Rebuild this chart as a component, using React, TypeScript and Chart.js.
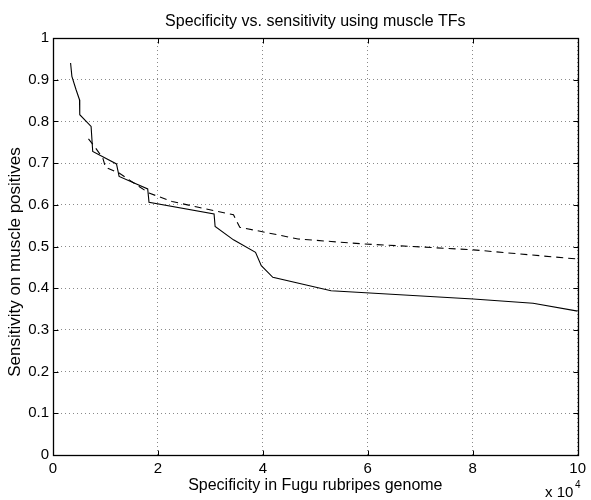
import React, { useEffect, useRef } from "react";
import { Chart, registerables } from "chart.js";

Chart.register(...registerables);

const TITLE = "Specificity vs. sensitivity using muscle TFs";
const X_TITLE = "Specificity in Fugu rubripes genome";
const Y_TITLE = "Sensitivity on muscle positives";

// x values are raw counts (axis shows them in units of 10^4)
const solidX = [3350, 3600, 4400, 5050, 5100, 7260, 7570, 12100, 12600, 18050, 18300, 30700, 30900, 34400, 38600, 39700, 41900, 53000, 80100, 91500, 100000];
const solidY = [0.94, 0.908, 0.876, 0.852, 0.816, 0.788, 0.728, 0.698, 0.668, 0.638, 0.606, 0.578, 0.548, 0.516, 0.486, 0.454, 0.426, 0.394, 0.374, 0.364, 0.345];

const dashedX = [6760, 7900, 9500, 10000, 12600, 16400, 18300, 22700, 27700, 34400, 35600, 39700, 46700, 53000, 59300, 65600, 80100, 100000];
const dashedY = [0.758, 0.74, 0.712, 0.69, 0.676, 0.644, 0.628, 0.608, 0.594, 0.576, 0.546, 0.536, 0.518, 0.512, 0.506, 0.502, 0.492, 0.47];

const xTicks = [0, 2, 4, 6, 8, 10];
const yTicks = [0, 0.1, 0.2, 0.3, 0.4, 0.5, 0.6, 0.7, 0.8, 0.9, 1];

const FONT = '"Liberation Sans", Arial, Helvetica, sans-serif';

const toPts = (xs: number[], ys: number[]) => xs.map((x, i) => ({ x, y: ys[i] }));

const matlabPlugin = {
  id: "matlabBox",
  afterDraw(chart: any) {
    const { ctx, chartArea: a, scales } = chart;
    const xs = scales.x;
    const ys = scales.y;
    ctx.save();
    ctx.strokeStyle = "#000";
    ctx.lineWidth = 1;
    const L = Math.round(a.left) + 0.5;
    const R = Math.round(a.right) + 0.5;
    const T = Math.round(a.top) + 0.5;
    const B = Math.round(a.bottom) + 0.5;
    ctx.beginPath();
    xTicks.forEach((v) => {
      const px = Math.round(xs.getPixelForValue(v * 10000)) + 0.5;
      ctx.moveTo(px, B);
      ctx.lineTo(px, B - 5);
      ctx.moveTo(px, T);
      ctx.lineTo(px, T + 5);
    });
    yTicks.forEach((v) => {
      const py = Math.round(ys.getPixelForValue(v)) + 0.5;
      ctx.moveTo(L, py);
      ctx.lineTo(L + 5, py);
      ctx.moveTo(R, py);
      ctx.lineTo(R - 5, py);
    });
    ctx.stroke();
    ctx.lineWidth = 1.3;
    ctx.strokeRect(L, T, R - L, B - T);

    ctx.fillStyle = "#000";
    ctx.font = "16px " + FONT;
    ctx.textAlign = "center";
    ctx.textBaseline = "alphabetic";
    const cx = (a.left + a.right) / 2;
    ctx.fillText(TITLE, cx, 26);
    ctx.fillText(X_TITLE, cx, 490);

    ctx.save();
    ctx.font = "17px " + FONT;
    ctx.translate(20, 262);
    ctx.rotate(-Math.PI / 2);
    ctx.fillText(Y_TITLE, 0, 0);
    ctx.restore();

    ctx.font = "15px " + FONT;
    ctx.textAlign = "left";
    ctx.fillText("x 10", 545, 497);
    ctx.font = "10px " + FONT;
    ctx.fillText("4", 575, 488);
    ctx.restore();
  },
};

export default function App() {
  const ref = useRef<HTMLCanvasElement | null>(null);
  useEffect(() => {
    if (!ref.current) return;
    const chart = new Chart(ref.current, {
      type: "scatter",
      data: {
        datasets: [
          {
            data: toPts(solidX, solidY),
            showLine: true,
            borderColor: "#000",
            borderWidth: 1.1,
            pointRadius: 0,
            fill: false,
          },
          {
            data: toPts(dashedX, dashedY),
            showLine: true,
            borderColor: "#000",
            borderWidth: 1.1,
            borderDash: [7, 5],
            pointRadius: 0,
            fill: false,
          },
        ],
      },
      options: {
        animation: false,
        responsive: false,
        events: [],
        layout: { padding: { top: 38, right: 10, left: 0, bottom: 0 } },
        plugins: { legend: { display: false }, tooltip: { enabled: false }, title: { display: false } },
        scales: {
          x: {
            type: "linear",
            min: 0,
            max: 100000,
            afterFit: (s: any) => {
              s.height = 45;
            },
            afterBuildTicks: (s: any) => {
              s.ticks = xTicks.map((v) => ({ value: v * 10000 }));
            },
            ticks: {
              color: "#000",
              font: { family: FONT, size: 15 },
              padding: 5,
              maxRotation: 0,
              autoSkip: false,
              callback: (v: any) => String(Math.round(Number(v) / 10000)),
            },
            grid: { color: "#8a8a8a", lineWidth: 1, drawTicks: false },
            border: { display: false, dash: [1, 3] },
          },
          y: {
            type: "linear",
            min: 0,
            max: 1,
            afterFit: (s: any) => {
              s.width = 53;
            },
            afterBuildTicks: (s: any) => {
              s.ticks = yTicks.map((v) => ({ value: v }));
            },
            ticks: {
              color: "#000",
              font: { family: FONT, size: 15 },
              padding: 4,
              autoSkip: false,
              callback: (v: any) => String(Math.round(Number(v) * 10) / 10),
            },
            grid: { color: "#8a8a8a", lineWidth: 1, drawTicks: false },
            border: { display: false, dash: [1, 3] },
          },
        },
      },
      plugins: [matlabPlugin],
    });
    return () => chart.destroy();
  }, []);
  return (
    <div style={{ position: "fixed", left: 0, top: 0, width: 591, height: 500, background: "#fff" }}>
      <canvas ref={ref} width={591} height={500} />
    </div>
  );
}
